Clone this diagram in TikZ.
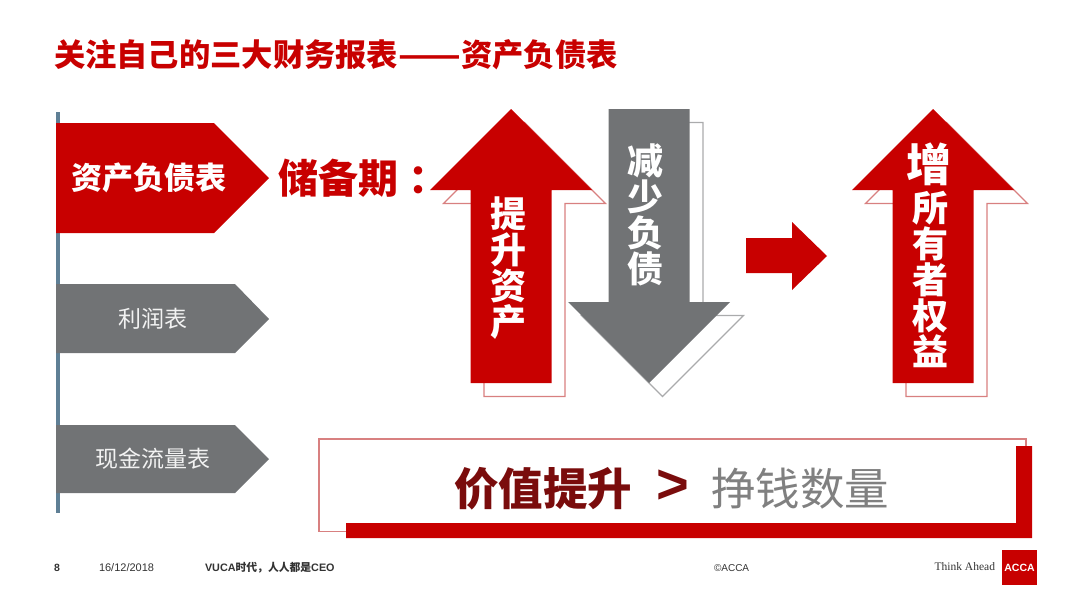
\documentclass[tikz,border=0pt]{standalone}
\usepackage{fontspec}
\setmainfont{Liberation Sans}
\newfontfamily\cjk{Noto Sans CJK SC}
\definecolor{accared}{HTML}{C80000}
\definecolor{accagray}{HTML}{717375}
\definecolor{accadark}{HTML}{7A0C0C}
\definecolor{accabar}{HTML}{5F7F95}
\definecolor{accapink}{HTML}{D88080}
\newcommand{\fsize}[1]{\fontsize{#1}{#1}\selectfont}
% arrow outlines, #1 = centre of the shaft
\newcommand{\arrowuppath}[1]{(#1,109) -- ++(81,81) -- ++(-40.5,0) -- ++(0,193) -- ++(-81,0) -- ++(0,-193) -- ++(-40.5,0) -- cycle}
\newcommand{\arrowdownpath}[1]{(#1,383) -- ++(81,-81) -- ++(-40.5,0) -- ++(0,-193) -- ++(-81,0) -- ++(0,193) -- ++(-40.5,0) -- cycle}
\begin{document}
\begin{tikzpicture}[x=1pt,y=-1pt,
    redshape/.style={fill=accared},
    grayshape/.style={fill=accagray},
    redline/.style={draw=accapink,line width=1.1pt},
    grayline/.style={draw=accagray!60,line width=1.1pt},
    every node/.style={inner sep=0pt,outer sep=0pt},
    tabtext/.style={text=white!90!gray,font=\cjk\fsize{23}},
    stacktext/.style={text=white,align=center,font=\cjk\bfseries\fsize{36}},
    foottext/.style={text=black!80,font=\fsize{11}}]
  \useasboundingbox (0,0) rectangle (1080,608);
  \node[anchor=west,text=accared,font=\cjk\bfseries\fsize{31.3}] (title) at (54,55) {关注自己的三大财务报表\scalebox{1.17}[1]{——}资产负债表};

  % tabs on the left
  \fill[accabar] (56,112) rectangle (60,513);
  \fill[redshape] (56,123) -- (214,123) -- (269,178) -- (214,233) -- (56,233) -- cycle;
  \fill[grayshape] (56,284) -- (235,284) -- (269,319) -- (235,353) -- (56,353) -- cycle;
  \fill[grayshape] (56,425) -- (235,425) -- (269,459) -- (235,493) -- (56,493) -- cycle;
  \node[text=white,font=\cjk\bfseries\fsize{31}] (balance) at (148.5,178) {资产负债表};
  \node[tabtext] (income) at (153,319) {利润表};
  \node[tabtext] (cashflow) at (153,459) {现金流量表};
  \node[anchor=west,text=accared,font=\cjk\bfseries\fsize{40}] (reserve) at (278,178) {储备期\kern10pt：};

  % arrows
  \begin{scope}[shift={(13.5,13.5)}]
    \draw[redline] \arrowuppath{511};
    \draw[redline] \arrowuppath{933};
    \draw[grayline] \arrowdownpath{649};
  \end{scope}
  \fill[redshape] \arrowuppath{511};
  \fill[redshape] \arrowuppath{933};
  \fill[grayshape] \arrowdownpath{649};
  \fill[redshape] (746,238) -- (792,238) -- (792,222) -- (827,256) -- (792,290) -- (792,273) -- (746,273) -- cycle;
  \node[stacktext] (assets) at (508,268.5) {提\\升\\资\\产};
  \node[stacktext] (debts) at (645,215) {减\\少\\负\\债};
  \node[stacktext,font=\cjk\bfseries\fsize{45}] (grow) at (929,164) {增};
  \node[stacktext] (equity) at (930,279.5) {所\\有\\者\\权\\益};

  % bottom box
  \draw[redline] (346,531.5) -- (319,531.5) -- (319,439) -- (1026,439) -- (1026,446);
  \fill[redshape] (346,523) -- (1016,523) -- (1016,446) -- (1032,446) -- (1032,538) -- (346,538) -- cycle;
  \node[text=accadark,font=\cjk\bfseries\fsize{44.5}] (value) at (543,489) {价值提升};
  \node[text=accadark,font=\bfseries\fsize{56}] (gt) at (673,487) {>};
  \node[text=black!50,font=\cjk\fsize{44.5}] (money) at (800,489) {挣钱数量};

  % footer
  \node[foottext,anchor=west,font=\bfseries\fsize{10.5}] (pageno) at (54,568) {8};
  \node[foottext,anchor=west] (date) at (99,568) {16/12/2018};
  \node[foottext,anchor=west,font=\bfseries\fsize{10.8}] (talk) at (205,568) {VUCA{\cjk 时代，人人都是}CEO};
  \node[foottext,anchor=west,font=\fsize{10}] (copyr) at (714,568) {©ACCA};
  \node[foottext,anchor=east,font=\rmfamily\fsize{11.5}] (think) at (995,567) {\fontspec{Liberation Serif}Think Ahead};
  \node[fill=accared,minimum size=35pt,text=white,font=\bfseries\fsize{10.5}] (logo) at (1019.5,567.5) {ACCA};
\end{tikzpicture}
\end{document}
